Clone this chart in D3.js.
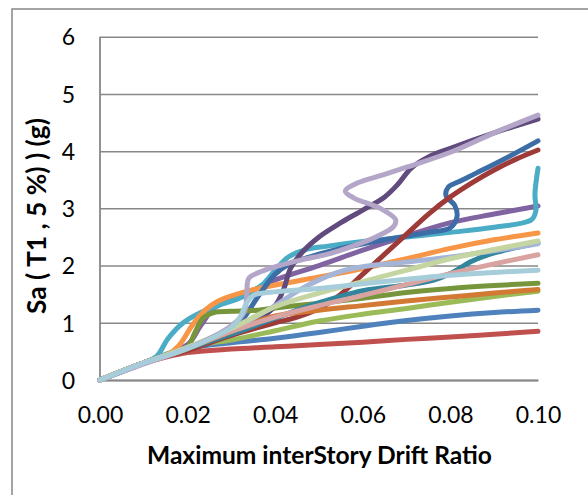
<!DOCTYPE html>
<html><head><meta charset="utf-8">
<script src="https://cdn.jsdelivr.net/npm/d3@7"></script>
<style>html,body{margin:0;padding:0;background:#fff;overflow:hidden}</style>
</head><body><svg id="c" width="588" height="495"></svg>
<script>
// ---- data ----
const xTicks = [0, 0.02, 0.04, 0.06, 0.08, 0.10];
const yTicks = [0, 1, 2, 3, 4, 5, 6];
const xTitle = "Maximum interStory Drift Ratio";
const yTitle = "Sa ( T1 , 5 %) ) (g)";

const rec01 = [[0,0],[0.01,0.3],[0.02,0.55],[0.03,0.65],[0.04,0.73],[0.05,0.83],[0.06,0.94],[0.07,1.04],[0.08,1.12],[0.09,1.18],[0.10,1.22]];
const rec02 = [[0,0],[0.01,0.29],[0.015,0.4],[0.02,0.48],[0.03,0.54],[0.04,0.58],[0.05,0.62],[0.06,0.66],[0.07,0.71],[0.08,0.75],[0.09,0.8],[0.10,0.85]];
const rec03 = [[0,0],[0.01,0.3],[0.02,0.58],[0.03,0.7],[0.04,0.86],[0.05,1.03],[0.06,1.15],[0.07,1.25],[0.08,1.36],[0.09,1.46],[0.10,1.55]];
const rec04 = [[0,0],[0.01,0.3],[0.02,0.62],[0.023,0.95],[0.026,1.25],[0.03,1.42],[0.035,1.57],[0.04,1.75],[0.05,2.0],[0.06,2.27],[0.07,2.52],[0.08,2.75],[0.09,2.9],[0.10,3.04]];
const rec05 = [[0,0],[0.01,0.3],[0.013,0.42],[0.0155,0.72],[0.019,1.0],[0.023,1.18],[0.027,1.3],[0.033,1.47],[0.037,1.66],[0.04,1.92],[0.043,2.15],[0.047,2.28],[0.052,2.34],[0.06,2.42],[0.07,2.5],[0.08,2.58],[0.09,2.67],[0.0985,2.8],[0.0995,2.95],[0.0993,3.25],[0.1,3.7]];
const rec06 = [[0,0],[0.01,0.3],[0.015,0.42],[0.018,0.6],[0.021,0.95],[0.024,1.22],[0.027,1.38],[0.033,1.54],[0.04,1.66],[0.05,1.8],[0.06,1.95],[0.07,2.12],[0.08,2.3],[0.09,2.45],[0.10,2.57]];
const rec07 = [[0,0],[0.01,0.3],[0.02,0.55],[0.03,0.85],[0.033,1.1],[0.036,1.45],[0.04,1.85],[0.043,2.02],[0.047,2.13],[0.055,2.3],[0.065,2.45],[0.075,2.58],[0.08,2.66],[0.0815,2.85],[0.081,3.05],[0.079,3.22],[0.0795,3.37],[0.082,3.47],[0.086,3.62],[0.092,3.85],[0.10,4.18]];
const rec08 = [[0,0],[0.01,0.3],[0.02,0.52],[0.03,0.78],[0.04,1.0],[0.045,1.1],[0.05,1.25],[0.055,1.5],[0.06,1.85],[0.065,2.2],[0.07,2.55],[0.075,2.9],[0.08,3.2],[0.085,3.45],[0.09,3.67],[0.095,3.86],[0.10,4.02]];
const rec09 = [[0,0],[0.01,0.3],[0.02,0.58],[0.0215,0.8],[0.0235,1.08],[0.026,1.18],[0.03,1.2],[0.036,1.22],[0.04,1.26],[0.05,1.34],[0.06,1.43],[0.07,1.53],[0.08,1.6],[0.09,1.65],[0.10,1.69]];
const rec10 = [[0,0],[0.01,0.3],[0.02,0.56],[0.03,0.85],[0.036,1.05],[0.04,1.3],[0.042,1.6],[0.0435,1.95],[0.046,2.22],[0.05,2.5],[0.055,2.75],[0.06,2.97],[0.065,3.2],[0.068,3.42],[0.071,3.7],[0.075,3.9],[0.08,4.05],[0.09,4.32],[0.10,4.56]];
const rec11 = [[0,0],[0.01,0.3],[0.02,0.55],[0.03,0.8],[0.04,1.08],[0.05,1.35],[0.06,1.56],[0.07,1.66],[0.076,1.74],[0.08,1.86],[0.085,2.08],[0.09,2.22],[0.10,2.4]];
const rec12 = [[0,0],[0.01,0.3],[0.02,0.55],[0.025,0.7],[0.03,0.85],[0.035,1.0],[0.04,1.12],[0.05,1.22],[0.06,1.3],[0.07,1.38],[0.08,1.45],[0.09,1.52],[0.10,1.58]];
const rec13 = [[0,0],[0.01,0.3],[0.02,0.57],[0.03,0.88],[0.04,1.3],[0.045,1.55],[0.05,1.75],[0.055,1.9],[0.06,1.98],[0.07,2.06],[0.08,2.15],[0.09,2.26],[0.10,2.38]];
const rec14 = [[0,0],[0.01,0.3],[0.02,0.56],[0.03,0.85],[0.04,1.1],[0.05,1.3],[0.06,1.48],[0.07,1.67],[0.08,1.86],[0.09,2.03],[0.10,2.19]];
const rec15 = [[0,0],[0.01,0.3],[0.02,0.57],[0.03,0.9],[0.04,1.28],[0.05,1.52],[0.06,1.72],[0.07,1.92],[0.08,2.12],[0.09,2.28],[0.10,2.43]];
const rec16 = [[0,0],[0.01,0.28],[0.02,0.55],[0.03,0.95],[0.033,1.2],[0.0335,1.5],[0.034,1.78],[0.037,1.9],[0.041,2.0],[0.046,2.1],[0.052,2.2],[0.058,2.35],[0.063,2.5],[0.067,2.68],[0.0675,2.8],[0.064,3.0],[0.058,3.18],[0.056,3.3],[0.059,3.45],[0.064,3.57],[0.07,3.72],[0.08,3.98],[0.09,4.32],[0.10,4.63]];
const rec17 = [[0,0],[0.01,0.3],[0.02,0.55],[0.03,0.92],[0.032,1.1],[0.0335,1.35],[0.035,1.48],[0.04,1.54],[0.05,1.6],[0.06,1.68],[0.07,1.76],[0.08,1.83],[0.09,1.88],[0.10,1.92]];

const records = [rec01,rec02,rec03,rec04,rec05,rec06,rec07,rec08,rec09,rec10,rec11,rec12,rec13,rec14,rec15,rec16,rec17];
const colors = ["#4F81BD","#C0504D","#9BBB59","#8064A2","#4BACC6","#F79646",
                "#3C6DA6","#9E3B38","#77963C","#614A7D","#31859C","#D27A34",
                "#A5B5D8","#D9A3A2","#C4D5A1","#B3A6C8","#A6CDD9"];

// ---- drawing ----
const svg = d3.select("#c");
const font = "Lato, 'Open Sans', sans-serif";
const x = d3.scaleLinear().domain([0, 0.10]).range([100, 538]);
const y = d3.scaleLinear().domain([0, 6]).range([380, 36.7]);

// outer frame (extends beyond the picture on right/bottom)
svg.append("rect").attr("x", 12).attr("y", 9).attr("width", 620).attr("height", 520)
  .attr("fill", "none").attr("stroke", "#878787").attr("stroke-width", 1.5);

// y axis with gridlines
const gy = svg.append("g").attr("transform", "translate(100,0)")
  .call(d3.axisLeft(y).tickValues(yTicks).tickSize(-(x(0.10) - x(0))).tickPadding(25).tickFormat(d3.format("d")));
gy.select(".domain").remove();
gy.selectAll(".tick line").attr("stroke", "#878787").attr("stroke-width", 1.5);
gy.selectAll(".tick text").attr("font-family", font).attr("font-size", 23).attr("fill", "#000")
  .attr("dy", "0.36em");

// left axis line
svg.append("line").attr("x1", 100).attr("x2", 100).attr("y1", y(6)).attr("y2", y(0))
  .attr("stroke", "#878787").attr("stroke-width", 1.8);

// x axis
const gx = svg.append("g").attr("transform", `translate(0,${y(0)})`)
  .call(d3.axisBottom(x).tickValues(xTicks).tickSize(0).tickPadding(0).tickFormat(d3.format(".2f")));
gx.select(".domain").attr("stroke", "#878787").attr("stroke-width", 1.8);
gx.selectAll(".tick text").attr("font-family", font).attr("font-size", 23).attr("fill", "#000")
  .attr("y", 43).attr("dy", 0);

// lines
svg.append("clipPath").attr("id", "clip").append("rect")
  .attr("x", 95).attr("y", 0).attr("width", 446).attr("height", 390);
const line = d3.line().x(d => x(d[0])).y(d => y(d[1])).curve(d3.curveCatmullRom.alpha(0.5));
svg.append("g").attr("clip-path", "url(#clip)")
  .selectAll("path").data(records).join("path")
  .attr("d", line).attr("fill", "none")
  .attr("stroke", (d, i) => colors[i]).attr("stroke-width", 5)
  .attr("stroke-linejoin", "round").attr("stroke-linecap", "round");

// titles
function fit(sel, target) {
  const w = sel.node().getComputedTextLength();
  const fs = +sel.attr("font-size");
  sel.attr("font-size", fs * target / w);
}
const xt = svg.append("text").text(xTitle).attr("x", 319.5).attr("y", 464)
  .attr("text-anchor", "middle").attr("font-family", font).attr("font-weight", "bold")
  .attr("font-size", 21).attr("fill", "#000");
fit(xt, 345);
const yt = svg.append("text").text(yTitle)
  .attr("transform", "translate(46,216) rotate(-90)")
  .attr("text-anchor", "middle").attr("font-family", font).attr("font-weight", "bold")
  .attr("font-size", 21).attr("fill", "#000");
fit(yt, 196);
</script>
</body></html>
